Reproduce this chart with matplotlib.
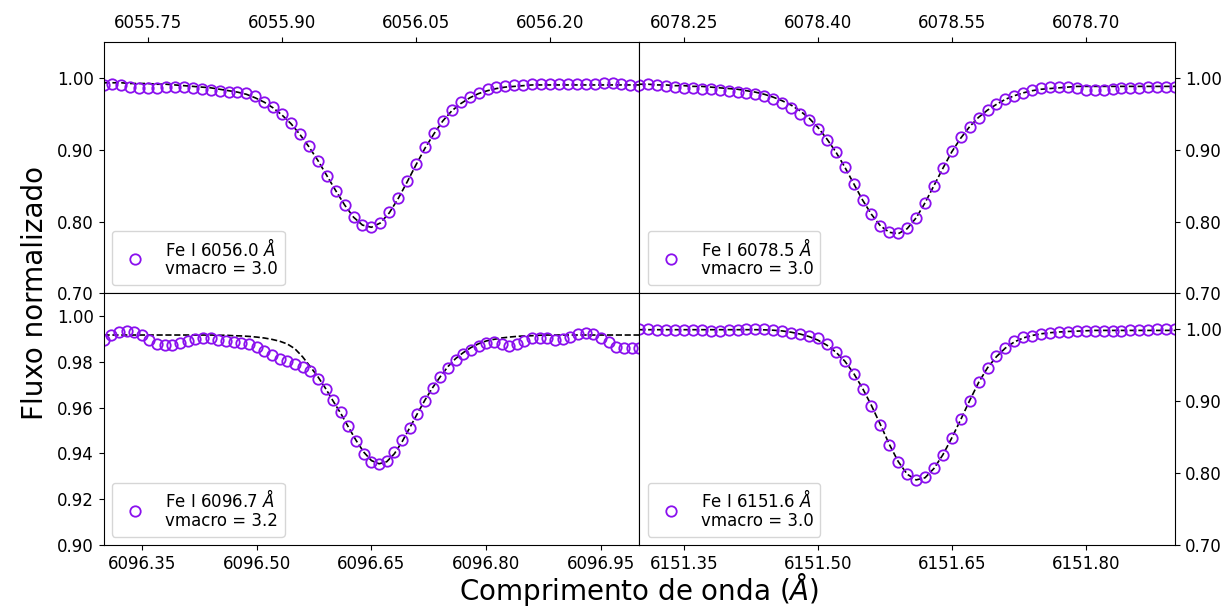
import numpy as np
import matplotlib
matplotlib.use("Agg")
import matplotlib.pyplot as plt

# wavelength grids (0.01 A sampling)
wl_6056 = np.linspace(6055.70, 6056.30, 61)
wl_6078 = np.linspace(6078.20, 6078.80, 61)
wl_6096 = np.linspace(6096.30, 6097.00, 71)
wl_6151 = np.linspace(6151.30, 6151.90, 61)

obs_6056 = [0.9898, 0.9907, 0.9893, 0.9874, 0.9860, 0.9860, 0.9860, 0.9870, 0.9874, 0.9870,
            0.9860, 0.9847, 0.9828, 0.9814, 0.9805, 0.9800, 0.9781, 0.9744, 0.9665, 0.9595,
            0.9493, 0.9372, 0.9223, 0.9047, 0.8847, 0.8637, 0.8419, 0.8223, 0.8056, 0.7953,
            0.7930, 0.7986, 0.8130, 0.8326, 0.8558, 0.8800, 0.9033, 0.9233, 0.9405, 0.9549,
            0.9660, 0.9735, 0.9791, 0.9837, 0.9870, 0.9884, 0.9898, 0.9902, 0.9907, 0.9907,
            0.9912, 0.9912, 0.9912, 0.9912, 0.9912, 0.9916, 0.9921, 0.9921, 0.9912, 0.9902,
            0.9884]
mod_6056 = [0.993, 0.993, 0.993, 0.992, 0.992, 0.992, 0.991, 0.991, 0.990, 0.989,
            0.988, 0.987, 0.986, 0.984, 0.982, 0.980, 0.977, 0.972, 0.966, 0.958,
            0.948, 0.936, 0.921, 0.904, 0.885, 0.864, 0.843, 0.823, 0.806, 0.795,
            0.792, 0.798, 0.812, 0.832, 0.855, 0.879, 0.902, 0.922, 0.940, 0.954,
            0.964, 0.972, 0.978, 0.982, 0.985, 0.987, 0.988, 0.989, 0.990, 0.990,
            0.990, 0.990, 0.990, 0.990, 0.990, 0.990, 0.990, 0.990, 0.990, 0.990,
            0.990]

obs_6078 = [0.9898, 0.9907, 0.9893, 0.9884, 0.9870, 0.9860, 0.9856, 0.9847, 0.9837, 0.9828,
            0.9814, 0.9805, 0.9791, 0.9777, 0.9744, 0.9698, 0.9642, 0.9581, 0.9502, 0.9409,
            0.9288, 0.9140, 0.8963, 0.8758, 0.8526, 0.8302, 0.8107, 0.7944, 0.7851, 0.7837,
            0.7907, 0.8047, 0.8256, 0.8498, 0.8744, 0.8986, 0.9172, 0.9316, 0.9442, 0.9549,
            0.9628, 0.9698, 0.9744, 0.9781, 0.9823, 0.9851, 0.9870, 0.9874, 0.9870, 0.9851,
            0.9828, 0.9823, 0.9828, 0.9837, 0.9851, 0.9860, 0.9860, 0.9865, 0.9870, 0.9874,
            0.9874]
mod_6078 = [0.991, 0.991, 0.990, 0.990, 0.989, 0.989, 0.988, 0.988, 0.987, 0.986,
            0.985, 0.984, 0.982, 0.980, 0.977, 0.973, 0.968, 0.962, 0.954, 0.944,
            0.931, 0.915, 0.897, 0.876, 0.853, 0.830, 0.810, 0.794, 0.785, 0.783,
            0.790, 0.805, 0.826, 0.850, 0.874, 0.897, 0.916, 0.932, 0.945, 0.955,
            0.963, 0.970, 0.975, 0.979, 0.982, 0.984, 0.985, 0.986, 0.987, 0.988,
            0.988, 0.988, 0.988, 0.988, 0.988, 0.988, 0.988, 0.988, 0.988, 0.988,
            0.988]

obs_6096 = [0.9895, 0.9918, 0.9933, 0.9936, 0.9931, 0.9917, 0.9895, 0.9880, 0.9874, 0.9874,
            0.9882, 0.9892, 0.9902, 0.9907, 0.9904, 0.9896, 0.9892, 0.9888, 0.9885, 0.9877,
            0.9866, 0.9848, 0.9829, 0.9815, 0.9804, 0.9793, 0.9780, 0.9761, 0.9727, 0.9680,
            0.9634, 0.9582, 0.9520, 0.9454, 0.9399, 0.9364, 0.9355, 0.9369, 0.9407, 0.9457,
            0.9512, 0.9571, 0.9629, 0.9685, 0.9734, 0.9775, 0.9807, 0.9834, 0.9851, 0.9870,
            0.9885, 0.9888, 0.9877, 0.9870, 0.9880, 0.9892, 0.9904, 0.9907, 0.9904, 0.9896,
            0.9899, 0.9909, 0.9921, 0.9928, 0.9921, 0.9907, 0.9888, 0.9867, 0.9860, 0.9860,
            0.9863]
mod_6096 = [0.9918, 0.9918, 0.9918, 0.9918, 0.9918, 0.9918, 0.9918, 0.9918, 0.9918, 0.9918,
            0.9918, 0.9918, 0.9918, 0.9918, 0.9918, 0.9917, 0.9917, 0.9915, 0.9914, 0.9912,
            0.9909, 0.9905, 0.9899, 0.9891, 0.9879, 0.9858, 0.9823, 0.9780, 0.9736, 0.9685,
            0.9629, 0.9575, 0.9515, 0.9457, 0.9406, 0.9369, 0.9355, 0.9364, 0.9399, 0.9451,
            0.9512, 0.9574, 0.9634, 0.9688, 0.9736, 0.9780, 0.9815, 0.9841, 0.9863, 0.9880,
            0.9892, 0.9899, 0.9905, 0.9909, 0.9912, 0.9914, 0.9915, 0.9917, 0.9918, 0.9918,
            0.9918, 0.9918, 0.9918, 0.9918, 0.9918, 0.9918, 0.9918, 0.9918, 0.9918, 0.9918,
            0.9918]

obs_6151 = [1.0005, 1.0005, 0.9995, 0.9991, 0.9991, 0.9991, 0.9991, 0.9986, 0.9981, 0.9981,
            0.9986, 0.9995, 1.0000, 1.0005, 1.0000, 0.9991, 0.9972, 0.9948, 0.9934, 0.9911,
            0.9873, 0.9793, 0.9685, 0.9559, 0.9385, 0.9174, 0.8934, 0.8667, 0.8394, 0.8160,
            0.7986, 0.7906, 0.7939, 0.8066, 0.8254, 0.8488, 0.8746, 0.9009, 0.9263, 0.9465,
            0.9624, 0.9746, 0.9831, 0.9887, 0.9911, 0.9934, 0.9948, 0.9958, 0.9967, 0.9972,
            0.9972, 0.9977, 0.9977, 0.9981, 0.9981, 0.9986, 0.9991, 0.9995, 1.0000, 1.0005,
            1.0005]
mod_6151 = [0.9995, 0.9995, 0.9995, 0.9995, 0.9995, 0.9995, 0.9995, 0.9995, 0.9995, 0.9995,
            0.9995, 0.9995, 0.9995, 0.9995, 0.9993, 0.9988, 0.9978, 0.9960, 0.9935, 0.9900,
            0.9850, 0.9780, 0.9685, 0.9560, 0.9390, 0.9180, 0.8940, 0.8675, 0.8400, 0.8160,
            0.7985, 0.7905, 0.7935, 0.8065, 0.8255, 0.8490, 0.8745, 0.9010, 0.9260, 0.9465,
            0.9620, 0.9740, 0.9825, 0.9880, 0.9915, 0.9938, 0.9953, 0.9963, 0.9970, 0.9975,
            0.9980, 0.9985, 0.9985, 0.9985, 0.9985, 0.9985, 0.9985, 0.9985, 0.9985, 0.9985,
            0.9985]

labels = ["Fe I 6056.0 $\\AA$\nvmacro = 3.0", "Fe I 6078.5 $\\AA$\nvmacro = 3.0",
          "Fe I 6096.7 $\\AA$\nvmacro = 3.2", "Fe I 6151.6 $\\AA$\nvmacro = 3.0"]
xlims = [(6055.70, 6056.30), (6078.20, 6078.80), (6096.30, 6097.00), (6151.30, 6151.90)]
xticks = [[6055.75, 6055.90, 6056.05, 6056.20], [6078.25, 6078.40, 6078.55, 6078.70],
          [6096.35, 6096.50, 6096.65, 6096.80, 6096.95], [6151.35, 6151.50, 6151.65, 6151.80]]
ylims = [(0.70, 1.05), (0.70, 1.05), (0.90, 1.01), (0.70, 1.05)]
yticks = [[0.70, 0.80, 0.90, 1.00], [0.70, 0.80, 0.90, 1.00],
          [0.90, 0.92, 0.94, 0.96, 0.98, 1.00], [0.70, 0.80, 0.90, 1.00]]

waves = [wl_6056, wl_6078, wl_6096, wl_6151]
obs = [obs_6056, obs_6078, obs_6096, obs_6151]
mods = [mod_6056, mod_6078, mod_6096, mod_6151]

color = "#8a10ee"

fig, axs = plt.subplots(2, 2, figsize=(12.24, 6.06), dpi=100)
fig.subplots_adjust(left=0.0846, right=0.960, top=0.931, bottom=0.1007,
                    wspace=0, hspace=0)

for k, ax in enumerate(axs.flat):
    ax.plot(waves[k], mods[k], "--", color="black", lw=1.2)
    ax.plot(waves[k], obs[k], "o", mfc="none", mec=color, ms=7.5, mew=1.3,
            label=labels[k])
    ax.set_xlim(*xlims[k])
    ax.set_ylim(*ylims[k])
    ax.set_xticks(xticks[k])
    ax.set_yticks(yticks[k])
    ax.xaxis.set_major_formatter(matplotlib.ticker.FormatStrFormatter("%.2f"))
    ax.yaxis.set_major_formatter(matplotlib.ticker.FormatStrFormatter("%.2f"))
    ax.tick_params(labelsize=12)
    row, col = divmod(k, 2)
    if row == 0:
        ax.xaxis.tick_top()
    else:
        ax.xaxis.tick_bottom()
    if col == 1:
        ax.yaxis.tick_right()
    else:
        ax.yaxis.tick_left()
    leg = ax.legend(loc="lower left", fontsize=12)
    for t in leg.get_texts():
        t.set_linespacing(1.05)

fig.text(0.522, 0.027, "Comprimento de onda ($\\AA$)", ha="center", va="center", fontsize=20)
fig.text(0.017, 0.517, "Fluxo normalizado", ha="left", va="center", rotation=90, fontsize=20)

fig.savefig("out.png", dpi=100)
